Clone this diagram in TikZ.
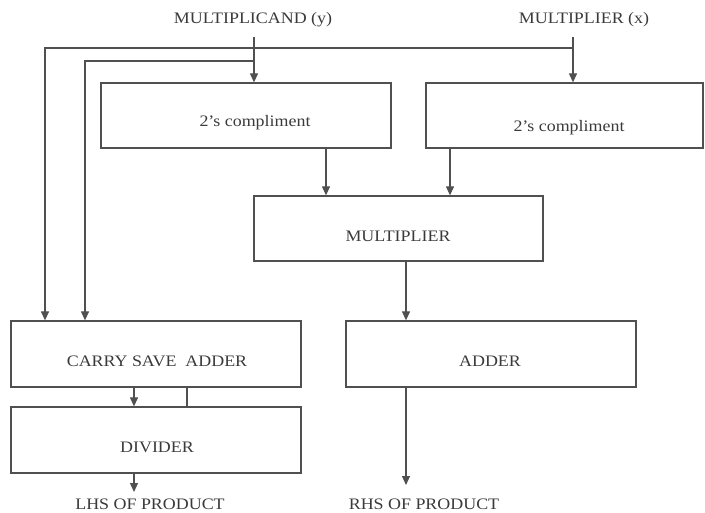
\documentclass[tikz,border=0pt]{standalone}
\usepackage{fontspec}
\setmainfont{Liberation Serif}
\usetikzlibrary{arrows.meta}
\definecolor{ln}{HTML}{505050}
\definecolor{tx}{HTML}{3A3A3A}
\newcommand{\stretchtxt}[1]{\scalebox{1.12}[1]{#1}}
\begin{document}
\begin{tikzpicture}[x=1pt,y=-1pt,
  box/.style={draw=ln,line width=1.3pt,rectangle,inner sep=0pt,minimum height=65pt},
  lbl/.style={text=tx,inner sep=0pt,font=\fontsize{16}{19}\selectfont},
  wire/.style={draw=ln,line width=1.2pt},
  arr/.style={wire,-{Triangle[length=9pt,width=8pt]}}]
\useasboundingbox (0,0) rectangle (705,512);
% boxes
\node[box,minimum width=290pt] (b1) at (246,115.5) {};
\node[box,minimum width=277pt] (b2) at (564.5,115.5) {};
\node[box,minimum width=289pt] (mul) at (398.5,228.5) {};
\node[box,minimum width=290pt,minimum height=66pt] (csa) at (156,354) {};
\node[box,minimum width=290pt,minimum height=66pt] (add) at (491,354) {};
\node[box,minimum width=290pt,minimum height=66pt] (div) at (156,440) {};
% labels
\node[lbl] (t1) at (255,123) {\stretchtxt{2's compliment}};
\node[lbl] (t2) at (569,128) {\stretchtxt{2's compliment}};
\node[lbl] (tm) at (398,236) {\stretchtxt{MULTIPLIER}};
\node[lbl] (tc) at (157,361) {\stretchtxt{CARRY SAVE\ \ ADDER}};
\node[lbl] (ta) at (490,361) {\stretchtxt{ADDER}};
\node[lbl] (td) at (157,447) {\stretchtxt{DIVIDER}};
\node[lbl] (iny) at (253,20) {\stretchtxt{MULTIPLICAND (y)}};
\node[lbl] (inx) at (584,20) {\stretchtxt{MULTIPLIER (x)}};
\node[lbl] (lhs) at (150,504) {\stretchtxt{LHS OF PRODUCT}};
\node[lbl] (rhs) at (424,504) {\stretchtxt{RHS OF PRODUCT}};
% coordinates
\coordinate (ys) at (254,37);
\coordinate (xs) at (573,37);
\coordinate (ysplit) at (254,61);
\coordinate (xsplit) at (573,48);
\coordinate (yleft) at (85,61);
\coordinate (xleft) at (45,48);
\coordinate (lhsend) at (134,492);
\coordinate (rhsend) at (406,485);
% connectors
\draw[arr] (ys) -- (ys |- b1.north);
\draw[arr] (xs) -- (xs |- b2.north);
\draw[arr] (ysplit) -- (yleft) -- (yleft |- csa.north);
\draw[arr] (xsplit) -- (xleft) -- (xleft |- csa.north);
\draw[arr] (b1.south -| 326,0) -- (mul.north -| 326,0);
\draw[arr] (b2.south -| 450,0) -- (mul.north -| 450,0);
\draw[arr] (mul.south -| 406,0) -- (add.north -| 406,0);
\draw[arr] (csa.south -| 134,0) -- (div.north -| 134,0);
\draw[wire] (csa.south -| 187,0) -- (div.north -| 187,0);
\draw[arr] (div.south -| lhsend) -- (lhsend);
\draw[arr] (add.south -| rhsend) -- (rhsend);
\end{tikzpicture}
\end{document}
